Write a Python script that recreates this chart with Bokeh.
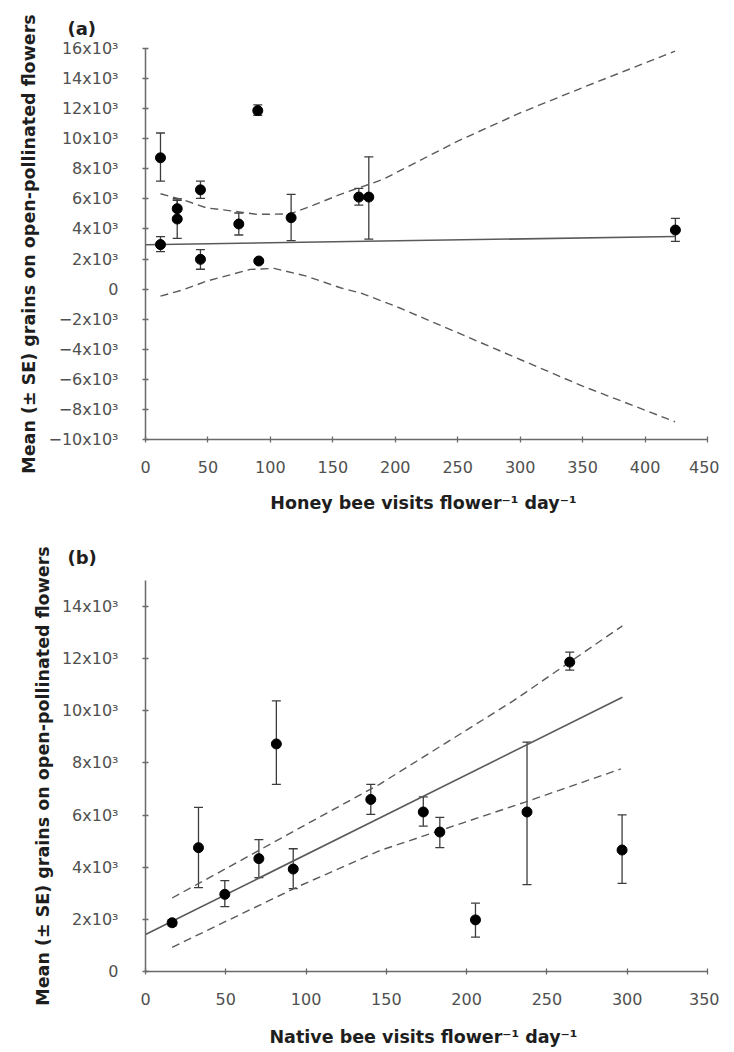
from bokeh.plotting import figure
from bokeh.models import Range1d, FixedTicker, Whisker, TeeHead, ColumnDataSource
from bokeh.layouts import column
from bokeh.embed import file_html
from bokeh.resources import INLINE

# ---- data (13 sites) ----
mean_grains = [8730, 1870, 4750, 2960, 4330, 3930, 6600, 6120, 5350, 1980, 6120, 11870, 4660]
se_low      = [7180, 1750, 3220, 2490, 3600, 3180, 6030, 5580, 4750, 1320, 3330, 11560, 3380]
se_high     = [10380, 1990, 6300, 3490, 5060, 4710, 7180, 6700, 5910, 2620, 8800, 12250, 6010]
honey_visits  = [12, 90.7, 116.6, 12, 74.7, 424.3, 44, 170.8, 25.4, 44, 178.8, 89.9, 25.4]
native_visits = [81.5, 16.6, 33, 49.4, 70.6, 92, 140.3, 173, 183.3, 205.5, 237.6, 264.2, 296.8]

# panel (a) fitted line and dashed bands
a_fit_x = [0, 424]
a_fit_y = [2950, 3500]
a_upper_x = [12, 30, 49, 70, 89, 116, 135, 156, 190, 250, 300, 350, 424]
a_upper_y = [6340, 5940, 5400, 5190, 4970, 5000, 5600, 6300, 7290, 9840, 11720, 13400, 15820]
a_lower_x = [12, 30, 49, 70, 84, 103, 129, 156, 172, 200, 250, 300, 350, 424]
a_lower_y = [-470, -50, 530, 1000, 1310, 1380, 860, 90, -250, -1130, -2900, -4680, -6450, -8820]

# panel (b) fitted line and dashed bands
b_fit_x = [0, 297]
b_fit_y = [1420, 10520]
b_upper_x = [16.6, 59, 100, 146, 229, 297]
b_upper_y = [2820, 4250, 5640, 7190, 10380, 13260]
b_lower_x = [16.6, 96.5, 146, 236, 296]
b_lower_y = [930, 3300, 4640, 6490, 7770]

# axes ticks and labels
a_xticks = [0, 50, 100, 150, 200, 250, 300, 350, 400, 450]
b_xticks = [0, 50, 100, 150, 200, 250, 300, 350]
a_yticks = [-10000, -8000, -6000, -4000, -2000, 0, 2000, 4000, 6000, 8000, 10000, 12000, 14000, 16000]
a_ylabels = ["\u221210x10\u00b3", "\u22128x10\u00b3", "\u22126x10\u00b3", "\u22124x10\u00b3", "\u22122x10\u00b3", "0",
             "2x10\u00b3", "4x10\u00b3", "6x10\u00b3", "8x10\u00b3", "10x10\u00b3", "12x10\u00b3", "14x10\u00b3", "16x10\u00b3"]
b_yticks = [0, 2000, 4000, 6000, 8000, 10000, 12000, 14000]
b_ylabels = ["0", "2x10\u00b3", "4x10\u00b3", "6x10\u00b3", "8x10\u00b3", "10x10\u00b3", "12x10\u00b3", "14x10\u00b3"]

y_title = "Mean (\u00b1 SE) grains on open-pollinated flowers"
a_xtitle = "Honey bee visits flower\u207b\u00b9  day\u207b\u00b9"
b_xtitle = "Native bee visits flower\u207b\u00b9  day\u207b\u00b9"

FONT = "DejaVu Sans"
AXIS_COL = "#6a6a6a"
TICK_TXT = "#505050"
LINE_COL = "#5a5a5a"
ERR_COL = "#3c3c3c"


def make_panel(xs, xr, yr, xticks, yticks, ylabels, xtitle, fit_x, fit_y, up_x, up_y, lo_x, lo_y,
               top, bottom, y_lab_standoff, x_lab_standoff, letter, title_standoff):
    p = figure(frame_width=562, frame_height=391,
               x_range=Range1d(*xr), y_range=Range1d(*yr),
               output_backend="svg", toolbar_location=None,
               min_border_left=145, min_border_right=12,
               min_border_top=top, min_border_bottom=bottom,
               title=letter)
    p.outline_line_color = None
    p.grid.visible = False
    p.background_fill_color = "white"
    p.border_fill_color = "white"

    p.title.align = "left"
    p.title.offset = -78
    p.title.standoff = title_standoff
    p.title.text_font = FONT
    p.title.text_font_size = "18px"
    p.title.text_font_style = "bold"
    p.title.text_color = "#1e1e1e"

    for ax in (p.xaxis[0], p.yaxis[0]):
        ax.axis_line_color = AXIS_COL
        ax.axis_line_width = 1.5
        ax.major_tick_line_color = AXIS_COL
        ax.major_tick_line_width = 1.3
        ax.major_tick_in = 3
        ax.major_tick_out = 3
        ax.minor_tick_line_color = None
        ax.major_label_text_font = FONT
        ax.major_label_text_font_size = "16px"
        ax.major_label_text_color = TICK_TXT
        ax.axis_label_text_font = FONT
        ax.axis_label_text_font_size = "17.5px"
        ax.axis_label_text_font_style = "bold"
        ax.axis_label_text_color = "#1e1e1e"

    p.xaxis.ticker = FixedTicker(ticks=xticks)
    p.yaxis.ticker = FixedTicker(ticks=yticks)
    p.yaxis.major_label_overrides = {t: l for t, l in zip(yticks, ylabels)}
    p.yaxis.major_label_standoff = 24
    p.xaxis.major_label_standoff = 18
    p.yaxis.axis_label = y_title
    p.xaxis.axis_label = xtitle
    p.yaxis.axis_label_standoff = y_lab_standoff
    p.xaxis.axis_label_standoff = x_lab_standoff

    # regression line and dashed bands
    p.line(fit_x, fit_y, line_color=LINE_COL, line_width=1.6)
    p.line(up_x, up_y, line_color=LINE_COL, line_width=1.4, line_dash="8 5")
    p.line(lo_x, lo_y, line_color=LINE_COL, line_width=1.4, line_dash="8 5")

    # error bars
    src = ColumnDataSource(dict(x=xs, y=mean_grains, lo=se_low, hi=se_high))
    w = Whisker(source=src, base="x", upper="hi", lower="lo", dimension="height",
                line_color=ERR_COL, line_width=1.3,
                upper_head=TeeHead(size=9, line_color=ERR_COL, line_width=1.3),
                lower_head=TeeHead(size=9, line_color=ERR_COL, line_width=1.3))
    p.add_layout(w)
    p.scatter("x", "y", source=src, size=10, fill_color="black", line_color="black")
    return p


pa = make_panel(honey_visits, (0, 450), (-10000, 16000), a_xticks, a_yticks, a_ylabels, a_xtitle,
                a_fit_x, a_fit_y, a_upper_x, a_upper_y, a_lower_x, a_lower_y,
                top=48, bottom=76, y_lab_standoff=6, x_lab_standoff=17, letter="(a)", title_standoff=20)
pb = make_panel(native_visits, (0, 350), (0, 15000), b_xticks, b_yticks, b_ylabels, b_xtitle,
                b_fit_x, b_fit_y, b_upper_x, b_upper_y, b_lower_x, b_lower_y,
                top=65, bottom=60, y_lab_standoff=6, x_lab_standoff=19, letter="(b)", title_standoff=25)

layout = column(pa, pb, spacing=0)
open("out.html", "w").write(file_html(layout, INLINE))
